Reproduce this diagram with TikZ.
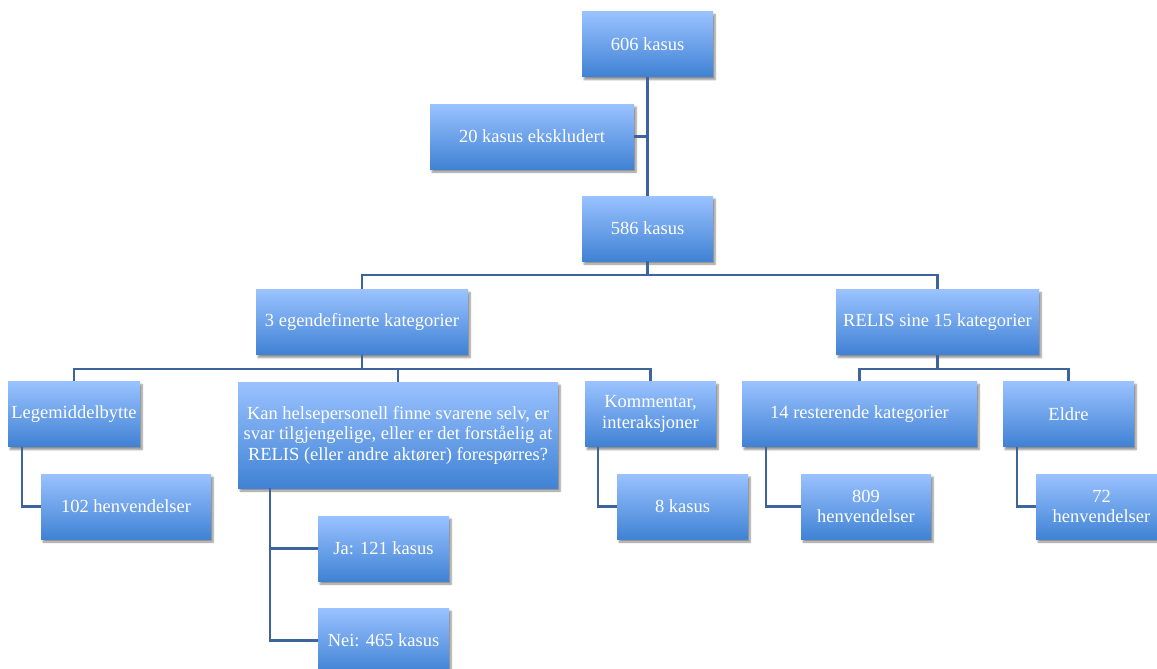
\documentclass[tikz,border=0pt]{standalone}
\usepackage{fontspec}
\setmainfont{Liberation Serif}
\newfontfamily\boksfont{Liberation Serif}
\usetikzlibrary{shadows.blur}
\definecolor{boxtop}{RGB}{154,194,255}
\definecolor{boxmid}{RGB}{132,178,245}
\definecolor{boxbot}{RGB}{64,130,212}
\definecolor{linje}{RGB}{62,100,158}
\begin{document}
\begin{tikzpicture}[x=1pt,y=-1pt,
    kasus/.style={rectangle,inner sep=2pt,minimum height=65pt,text=white,align=center,
        top color=boxtop,middle color=boxmid,bottom color=boxbot,
        font=\boksfont\fontsize{18.5}{20.5}\selectfont,
        blur shadow={shadow xshift=2pt,shadow yshift=-3pt,shadow opacity=45,shadow blur steps=6}},
    gren/.style={draw=linje,line width=2.3pt}]
            \useasboundingbox (0,0) rectangle (1157,669);
            \node(n606)[kasus,minimum width=131pt] at (647.5,44){606 kasus};
            \node(n20)[kasus,minimum width=204pt] at (532,136.5){20 kasus ekskludert};
            \node(n586)[kasus,minimum width=131pt] at (647.5,228.5){586 kasus};
            \node(egen)[kasus,minimum width=212pt] at (362,322){3 egendefinerte kategorier};
            \node(relis)[kasus,minimum width=203pt] at (937.5,322){RELIS sine 15 kategorier};
            \node(lege)[kasus,minimum width=132pt] at (74,414){Legemiddelbytte};
            \node(kan)[kasus,minimum width=320pt,minimum height=106pt] at (398,435){Kan helsepersonell finne svarene selv, er\\svar tilgjengelige, eller er det forståelig at\\RELIS (eller andre aktører) forespørres?};
            \node(komm)[kasus,minimum width=131pt] at (650.5,414){Kommentar,\\interaksjoner};
            \node(rest)[kasus,minimum width=235pt] at (859.5,414){14 resterende kategorier};
            \node(eldre)[kasus,minimum width=131pt] at (1068.5,414){Eldre};
            \node(h102)[kasus,minimum width=170pt] at (126,506.5){102 henvendelser};
            \node(ja)[kasus,minimum width=131pt] at (383.5,548.5){Ja: 121 kasus};
            \node(nei)[kasus,minimum width=131pt] at (383.5,640.5){Nei: 465 kasus};
            \node(k8)[kasus,minimum width=131pt] at (682.5,506.5){8 kasus};
            \node(h809)[kasus,minimum width=130pt] at (866,506.5){809\\henvendelser};
            \node(h72)[kasus,minimum width=131pt] at (1101.5,506.5){72\\henvendelser};
            \draw[gren] (n606) -- (n586);
            \draw[gren] (n20.east) -- (n20.east -| n606.south);
            \draw[gren] (n586.south) -- ++(0,14) -| (egen.north);
            \draw[gren] (n586.south) -- ++(0,14) -| (relis.north);
            \draw[gren] (egen.south) -- ++(0,14) -| (lege.north);
            \draw[gren] (egen.south) -- ++(0,14) -| (kan.north);
            \draw[gren] (egen.south) -- ++(0,14) -| (komm.north);
            \draw[gren] (relis.south) -- ++(0,14) -| (rest.north);
            \draw[gren] (relis.south) -- ++(0,14) -| (eldre.north);
            \draw[gren] ([xshift=14pt]lege.south west) |- (h102.west);
            \draw[gren] ([xshift=32pt]kan.south west) |- (ja.west);
            \draw[gren] ([xshift=32pt]kan.south west) |- (nei.west);
            \draw[gren] ([xshift=13pt]komm.south west) |- (k8.west);
            \draw[gren] ([xshift=24pt]rest.south west) |- (h809.west);
            \draw[gren] ([xshift=14pt]eldre.south west) |- (h72.west);
        \end{tikzpicture}
\end{document}
